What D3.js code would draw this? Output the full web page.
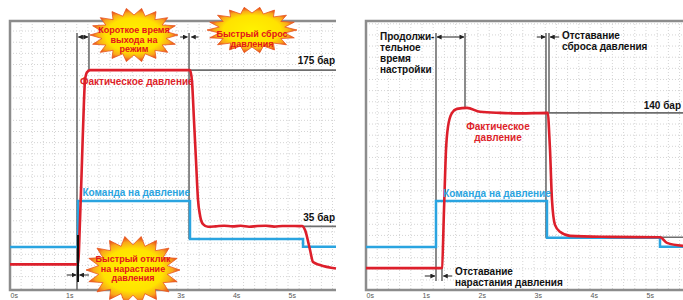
<!DOCTYPE html>
<html>
<head>
<meta charset="utf-8">
<script src="https://cdn.jsdelivr.net/npm/d3@7"></script>
<style>
  body { margin: 0; background: #fff; }
  svg { display: block; font-family: "Liberation Sans Narrow", "Arial Narrow", "Liberation Sans", Arial, sans-serif; }
</style>
</head>
<body>
<div id="chart"></div>
<script>
// time ticks shared by both panels
const timeTicks = [0, 1, 2, 3, 4, 5];
const tickLabels = ["0s", "1s", "2s", "3s", "4s", "5s"];

// left panel: actual pressure (bar) vs time (s)
const leftActualT = [0, 1.223, 1.259, 1.295, 1.331, 1.349, 1.385, 1.439, 2.3, 3.237, 3.273, 3.309, 3.345, 3.381, 3.417, 3.471, 3.561,
  3.7, 3.85, 4.0, 4.15, 4.3, 4.45, 4.6, 4.75, 4.9, 5.05, 5.2, 5.252, 5.306, 5.396, 5.45, 5.576, 5.863];
const leftActualP = [1, 1, 40, 94, 148, 166, 173, 175, 175, 175, 165, 130, 94, 59, 45, 37, 34.6,
  35.0, 35.6, 35.0, 35.5, 34.7, 35.3, 35.6, 34.8, 35.3, 35.4, 35.2, 35.3, 31.7, 13.8, 3, 0.4, -2.8];
// left panel: pressure command (step signal)
const leftCommandT = [0, 1.223, 3.237, 5.27, 5.863];
const leftCommandP = [16.5, 57.7, 23.7, 16.8, 16.8];

// right panel: actual pressure
const rightActualT = [0, 1.339, 1.357, 1.393, 1.429, 1.464, 1.536, 1.625, 1.804, 2.036, 2.393, 2.75, 3.25,
  3.268, 3.286, 3.321, 3.375, 3.464, 3.643, 4.357, 5.25, 5.375, 5.661];
const rightActualP = [0.6, 0.6, 1, 53, 107, 127.5, 140, 143.6, 144.5, 141, 140, 139.6, 140,
  125, 107, 62, 39.5, 33.2, 29.6, 28.7, 28.3, 23.3, 20.6];
// right panel: pressure command
const rightCommandT = [0, 1.25, 3.232, 5.25, 5.661];
const rightCommandP = [19.7, 61, 27.8, 19.9, 19.9];

const width = 683, height = 300;
const RED = "#dd1f2b", BLUE = "#2aa4e0", GREY = "#6e6e6e", FRAME = "#8c8c8c";

let svg = d3.select("#chart")
    .append("svg")
    .attr("width", width)
    .attr("height", height);

let defs = svg.append("defs");

let grad = defs.append("radialGradient").attr("id", "burst");
grad.append("stop").attr("offset", "0%").attr("stop-color", "#fff200");
grad.append("stop").attr("offset", "64%").attr("stop-color", "#ffe200");
grad.append("stop").attr("offset", "84%").attr("stop-color", "#f9a61c");
grad.append("stop").attr("offset", "100%").attr("stop-color", "#e4411b");

function arrowMarker(id, color) {
    defs.append("marker")
        .attr("id", id)
        .attr("viewBox", "0 0 10 10")
        .attr("refX", 9).attr("refY", 5)
        .attr("markerWidth", 5).attr("markerHeight", 5)
        .attr("orient", "auto-start-reverse")
        .append("path")
        .attr("d", "M0,0 L10,5 L0,10 z")
        .attr("fill", color);
}
arrowMarker("arr", "#222");

/**
 * Draws one panel: frame, grid, reference lines and both signals
 */
function drawPanel(cfg) {
    let x = d3.scaleLinear().domain(cfg.tDomain).range([cfg.left, cfg.right]);
    let y = d3.scaleLinear().domain(cfg.pDomain).range([cfg.bottom, cfg.top]);
    let g = svg.append("g");

    let clipId = "clip" + cfg.left;
    defs.append("clipPath").attr("id", clipId)
        .append("rect")
        .attr("x", cfg.left).attr("y", cfg.top)
        .attr("width", cfg.right - cfg.left).attr("height", cfg.bottom - cfg.top);

    // dotted grid
    let grid = g.append("g").attr("clip-path", `url(#${clipId})`)
        .attr("stroke", "#d4d4d4").attr("stroke-width", 1).attr("stroke-dasharray", "1,2");
    grid.selectAll("line.v").data(d3.range(0.2, cfg.tDomain[1], 0.2)).enter()
        .append("line").attr("class", "v")
        .attr("x1", d => x(d)).attr("x2", d => x(d))
        .attr("y1", cfg.top).attr("y2", cfg.bottom);
    grid.selectAll("line.h").data(d3.range(-10, cfg.pDomain[1], 10)).enter()
        .append("line").attr("class", "h")
        .attr("x1", cfg.left).attr("x2", cfg.right)
        .attr("y1", d => y(d)).attr("y2", d => y(d));

    // frame (left, top, bottom)
    g.append("path")
        .attr("d", `M${cfg.right},${cfg.top} H${cfg.left} V${cfg.bottom} H${cfg.right}`)
        .attr("fill", "none").attr("stroke", FRAME).attr("stroke-width", 2.5);

    // time axis labels
    g.append("g")
        .attr("transform", `translate(0, ${cfg.bottom + 3})`)
        .call(d3.axisBottom(x).tickValues(timeTicks).tickFormat((d, i) => tickLabels[i]).tickSize(0).tickPadding(0))
        .call(a => a.select(".domain").remove())
        .selectAll("text")
        .attr("text-anchor", "start")
        .attr("fill", "#555")
        .style("font-size", "7px");

    // reference lines
    cfg.refs.forEach(r => {
        g.append("line")
            .attr("x1", x(r[0])).attr("y1", r[1] == null ? cfg.top + 12 : y(r[1]))
            .attr("x2", x(r[2])).attr("y2", r[3] == null ? cfg.bottom : y(r[3]))
            .attr("stroke", GREY).attr("stroke-width", 1.6);
    });

    // command signal
    g.append("path")
        .datum(d3.zip(cfg.cmdT, cfg.cmdP))
        .attr("fill", "none").attr("stroke", BLUE).attr("stroke-width", 2.5)
        .attr("d", d3.line().curve(d3.curveStepAfter).x(d => x(d[0])).y(d => y(d[1])));

    // actual pressure
    g.append("path")
        .datum(d3.zip(cfg.actT, cfg.actP))
        .attr("fill", "none").attr("stroke", RED).attr("stroke-width", 2.6)
        .attr("stroke-linejoin", "round")
        .attr("d", d3.line().curve(d3.curveMonotoneX).x(d => x(d[0])).y(d => y(d[1])));

    // dimension arrows [t1, t2, py] : arrow from t1 pointing to t2
    cfg.arrows.forEach(a => {
        g.append("line")
            .attr("x1", x(a[0])).attr("x2", x(a[1]))
            .attr("y1", a[2]).attr("y2", a[2])
            .attr("stroke", "#222").attr("stroke-width", 1)
            .attr("marker-end", "url(#arr)")
            .attr("marker-start", a[3] ? "url(#arr)" : null);
    });

    return { x: x, y: y, g: g };
}

function starburst(cx, cy, rx, ry, spikes, lines, baseY, color, size) {
    let pts = [];
    for (let i = 0; i < spikes * 2; i++) {
        let a = Math.PI * i / spikes;
        let k = i % 2 === 0 ? 1 : 0.74;
        pts.push([cx + Math.cos(a) * rx * k, cy + Math.sin(a) * ry * k]);
    }
    svg.append("polygon")
        .attr("points", pts.map(p => p.join(",")).join(" "))
        .attr("fill", "url(#burst)")
        .attr("stroke", "#e8561e").attr("stroke-width", 0.8);
    svg.append("text")
        .attr("text-anchor", "middle")
        .attr("fill", color)
        .style("font-size", size + "px").style("font-weight", "bold")
        .selectAll("tspan").data(lines).enter()
        .append("tspan")
        .attr("x", cx).attr("y", (d, i) => baseY + i * (size + 0.5))
        .text(d => d);
}

// ---------------- left panel ----------------
let L = drawPanel({
    left: 10, right: 336, top: 21, bottom: 290,
    tDomain: [0, 5.863], pDomain: [-22, 219],
    actT: leftActualT, actP: leftActualP,
    cmdT: leftCommandT, cmdP: leftCommandP,
    refs: [
        [1.205, null, 1.205, null],
        [1.42, null, 1.42, 175],
        [3.22, null, 3.22, 23.7],
        [3.22, 175, 5.863, 175],
        [5.25, 35, 5.863, 35]
    ],
    arrows: [
        [1.23, 1.40, 37, true],
        [3.06, 3.19, 37],
        [3.39, 3.26, 37],
        [1.02, 1.19, 275],
        [1.42, 1.25, 275]
    ]
});

// black marker at the command step
L.g.append("line")
    .attr("x1", L.x(1.223)).attr("x2", L.x(1.223))
    .attr("y1", 235).attr("y2", 282)
    .attr("stroke", "#111").attr("stroke-width", 2);

L.g.append("text").attr("x", L.x(2.28)).attr("y", 85)
    .attr("text-anchor", "middle").attr("fill", RED)
    .style("font-size", "10px").style("font-weight", "bold")
    .text("Фактическое давление");
L.g.append("text").attr("x", L.x(2.27)).attr("y", 196)
    .attr("text-anchor", "middle").attr("fill", BLUE)
    .style("font-size", "10px").style("font-weight", "bold")
    .text("Команда на давление");
L.g.append("text").attr("x", 335).attr("y", L.y(175) - 6)
    .attr("text-anchor", "end").attr("fill", "#111")
    .style("font-size", "10px").style("font-weight", "bold")
    .text("175 бар");
L.g.append("text").attr("x", 335).attr("y", L.y(35) - 5)
    .attr("text-anchor", "end").attr("fill", "#111")
    .style("font-size", "10px").style("font-weight", "bold")
    .text("35 бар");

// ---------------- right panel ----------------
let R = drawPanel({
    left: 366, right: 683, top: 21, bottom: 290,
    tDomain: [0, 5.661], pDomain: [-19, 222.5],
    actT: rightActualT, actP: rightActualP,
    cmdT: rightCommandT, cmdP: rightCommandP,
    refs: [
        [1.25, null, 1.25, -11],
        [1.768, null, 1.768, 144.5],
        [1.357, 1, 1.357, -11],
        [3.214, null, 3.214, 27.8],
        [3.268, null, 3.268, 140],
        [3.268, 140, 5.661, 140],
        [4.8, 28.3, 5.661, 28.3]
    ],
    arrows: [
        [1.27, 1.75, 37, true],
        [3.05, 3.2, 37],
        [3.45, 3.29, 37],
        [1.05, 1.23, 276],
        [1.54, 1.38, 276]
    ]
});

R.g.append("text").attr("fill", "#111")
    .style("font-size", "10px").style("font-weight", "bold")
    .selectAll("tspan").data(["Продолжи-", "тельное", "время", "настройки"]).enter()
    .append("tspan").attr("x", 380).attr("y", (d, i) => 40 + i * 11).text(d => d);
R.g.append("text").attr("fill", "#111")
    .style("font-size", "10px").style("font-weight", "bold")
    .selectAll("tspan").data(["Отставание", "сброса давления"]).enter()
    .append("tspan").attr("x", 562).attr("y", (d, i) => 39 + i * 11).text(d => d);
R.g.append("text").attr("fill", "#111")
    .style("font-size", "10px").style("font-weight", "bold")
    .selectAll("tspan").data(["Отставание", "нарастания давления"]).enter()
    .append("tspan").attr("x", 455).attr("y", (d, i) => 275 + i * 11).text(d => d);
R.g.append("text").attr("fill", RED)
    .attr("text-anchor", "middle")
    .style("font-size", "10px").style("font-weight", "bold")
    .selectAll("tspan").data(["Фактическое", "давление"]).enter()
    .append("tspan").attr("x", 498).attr("y", (d, i) => 130 + i * 11).text(d => d);
R.g.append("text").attr("x", 497).attr("y", 197)
    .attr("text-anchor", "middle").attr("fill", BLUE)
    .style("font-size", "10px").style("font-weight", "bold")
    .text("Команда на давление");
R.g.append("text").attr("x", 681).attr("y", R.y(140) - 4)
    .attr("text-anchor", "end").attr("fill", "#111")
    .style("font-size", "10px").style("font-weight", "bold")
    .text("140 бар");

// starbursts on the left panel
starburst(134, 35, 44, 27, 18, ["Короткое время", "выхода на", "режим"], 33, "#e3131b", 9);
starburst(252, 30, 45, 23, 18, ["Быстрый сброс", "давления"], 37, "#e3131b", 9);
starburst(133, 270, 47, 34, 18, ["Быстрый отклик", "на нарастание", "давления"], 262, "#e3131b", 9);
</script>
</body>
</html>
